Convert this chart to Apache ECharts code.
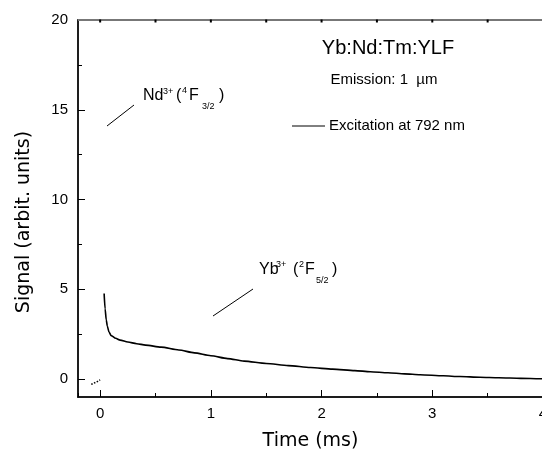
<!DOCTYPE html>
<html>
<head>
<meta charset="utf-8">
<script src="https://cdn.jsdelivr.net/npm/echarts@6/dist/echarts.min.js"></script>
<style>
html,body{margin:0;padding:0;background:#fff;}
#c{width:542px;height:450px;}
</style>
</head>
<body>
<div id="c"></div>
<script>
// ---- data ----
const preTime   = [-0.08, -0.06, -0.04, -0.02, 0.0];
const preSignal = [-0.30, -0.24, -0.18, -0.12, -0.05];

const decayTime   = [0.036, 0.045, 0.055, 0.065, 0.08, 0.1, 0.14, 0.18, 0.25, 0.33, 0.41, 0.55, 0.71, 0.85, 1.0, 1.15, 1.3, 1.5, 1.7, 1.9, 2.1, 2.3, 2.44, 2.6, 2.75, 2.89, 3.1, 3.25, 3.43, 3.6, 3.8, 3.97, 4.0];
const decaySignal = [4.77, 3.9, 3.3, 2.95, 2.62, 2.42, 2.27, 2.17, 2.06, 1.97, 1.89, 1.78, 1.62, 1.46, 1.30, 1.14, 1.0, 0.87, 0.75, 0.64, 0.55, 0.47, 0.41, 0.35, 0.29, 0.24, 0.18, 0.14, 0.1, 0.07, 0.04, 0.02, 0.02];

const xLabelValues = [0, 1, 2, 3, 4];
const topTickValues = [0, 0.5, 1, 1.5, 2, 2.5, 3, 3.5];
const yLabelValues = [0, 5, 10, 15, 20];
const yMinorValues = [2.5, 7.5, 12.5, 17.5];
const yTop = 20;

const xTitle = 'Time (ms)';
const yTitle = 'Signal (arbit. units)';

const FONT = 'Liberation Sans, Arial, sans-serif';
const TITLE_FONT = 'DejaVu Sans, sans-serif';

const chart = echarts.init(document.getElementById('c'), null, {renderer: 'canvas'});

function txt(x, y, s, size, align) {
  return {type: 'text', x: x, y: y, silent: true,
    style: {text: s, fill: '#000', font: size + 'px ' + FONT, align: align || 'left', verticalAlign: 'middle'}};
}

const noLabel = {show: true, formatter: () => '', color: 'rgba(0,0,0,0)'};
const xBase = {type: 'value', min: -0.2, max: 4, splitLine: {show: false}};
const yBase = {type: 'value', min: -1, max: yTop, splitLine: {show: false}};

const option = {
  animation: false,
  backgroundColor: '#fff',
  grid: {left: 78, right: -1, top: 20, bottom: 53, outerBoundsMode: 'none',
    show: true, backgroundColor: 'rgba(0,0,0,0)', borderColor: '#777', borderWidth: 2},
  xAxis: [
    Object.assign({}, xBase, {
      position: 'bottom',
      name: xTitle, nameLocation: 'middle', nameGap: 35,
      nameTextStyle: {fontFamily: TITLE_FONT, fontSize: 19, color: '#000'},
      axisLine: {show: true, onZero: false, lineStyle: {color: '#000', width: 1.5}},
      axisTick: {show: true, inside: true, length: 7, customValues: xLabelValues, lineStyle: {color: '#000', width: 1}},
      axisLabel: {show: true, customValues: xLabelValues, fontFamily: FONT, fontSize: 15, color: '#000', margin: 9}
    }),
    Object.assign({}, xBase, {
      position: 'bottom', splitNumber: 8,
      axisLine: {show: false, onZero: false},
      axisTick: {show: true, inside: true, length: 4, lineStyle: {color: '#000', width: 1}},
      axisLabel: {show: false}
    })
  ],
  yAxis: [
    Object.assign({}, yBase, {
      position: 'left',
      axisLine: {show: true, onZero: false, lineStyle: {color: '#000', width: 1.5}},
      axisTick: {show: true, inside: true, length: 7, customValues: yLabelValues, lineStyle: {color: '#000', width: 1}},
      axisLabel: {show: true, customValues: yLabelValues, fontFamily: FONT, fontSize: 15, color: '#000', margin: 10}
    }),
    Object.assign({}, yBase, {
      position: 'left',
      axisLine: {show: true, onZero: false, lineStyle: {color: 'rgba(0,0,0,0)'}},
      axisTick: {show: true, inside: true, length: 4, customValues: yMinorValues, lineStyle: {color: '#000', width: 1}},
      axisLabel: Object.assign({customValues: yMinorValues}, noLabel)
    })
  ],
  series: [
    {
      type: 'line', xAxisIndex: 0, yAxisIndex: 0,
      data: preTime.map((t, i) => [t, preSignal[i]]),
      showSymbol: false, symbol: 'none',
      lineStyle: {color: '#000', width: 1.5, type: 'dotted'},
      markLine: {
        silent: true, symbol: 'none', label: {show: false},
        lineStyle: {color: '#777', width: 2, type: 'solid'},
        data: [{yAxis: yTop}]
      },
      markPoint: {
        silent: true, symbol: 'rect', symbolSize: [2, 3], symbolOffset: [0, 1],
        itemStyle: {color: '#000'}, label: {show: false},
        data: topTickValues.map(v => ({coord: [v, yTop]}))
      }
    },
    {
      type: 'line', xAxisIndex: 0, yAxisIndex: 0,
      data: decayTime.map((t, i) => [t, decaySignal[i]]),
      showSymbol: false, symbol: 'none', smooth: 0.25, smoothMonotone: 'x',
      lineStyle: {color: '#000', width: 1.6}
    },
    {type: 'line', xAxisIndex: 1, yAxisIndex: 1, data: [], symbol: 'none'}
  ],
  graphic: [
    {type: 'text', x: 24, y: 222, rotation: Math.PI / 2, silent: true,
      style: {text: yTitle, fill: '#000', font: '19px ' + TITLE_FONT, align: 'center', verticalAlign: 'middle'}},

    {type: 'text', x: 388, y: 48, silent: true,
      style: {text: 'Yb:Nd:Tm:YLF', fill: '#000', font: '20px ' + FONT, align: 'center', verticalAlign: 'middle'}},
    txt(384, 80, 'Emission: 1  \u00b5m', 15, 'center'),
    {type: 'line', silent: true, shape: {x1: 292, y1: 126, x2: 325, y2: 126}, style: {stroke: '#000', lineWidth: 1}},
    txt(329, 126, 'Excitation at 792 nm', 15),

    {type: 'line', silent: true, shape: {x1: 107, y1: 126, x2: 134, y2: 105}, style: {stroke: '#000', lineWidth: 1}},
    txt(143, 96, 'Nd', 16),
    txt(163, 92, '3+', 9),
    txt(176, 96, '(', 16),
    txt(182, 91, '4', 9),
    txt(189, 96, 'F', 16),
    txt(202, 107, '3/2', 9),
    txt(219, 96, ')', 16),

    {type: 'line', silent: true, shape: {x1: 213, y1: 316, x2: 253, y2: 289}, style: {stroke: '#000', lineWidth: 1}},
    txt(259, 270, 'Yb', 16),
    txt(276, 265, '3+', 9),
    txt(293, 270, '(', 16),
    txt(299, 265, '2', 9),
    txt(305, 270, 'F', 16),
    txt(316, 281, '5/2', 9),
    txt(332, 270, ')', 16)
  ]
};
chart.setOption(option);
</script>
</body>
</html>
